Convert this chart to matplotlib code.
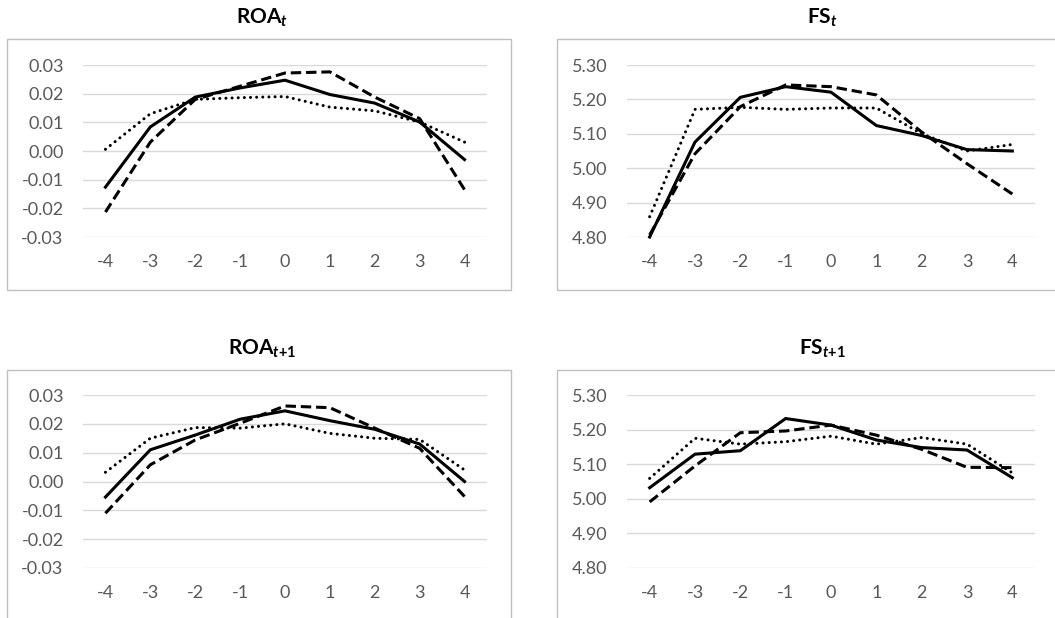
import matplotlib.pyplot as plt
from matplotlib.patches import Rectangle

plt.rcParams['font.family'] = ['Lato', 'DejaVu Sans']
plt.rcParams['mathtext.fontset'] = 'custom'
plt.rcParams['mathtext.rm'] = 'Lato:bold'
plt.rcParams['mathtext.it'] = 'Lato:bold:italic'

periods = [-4, -3, -2, -1, 0, 1, 2, 3, 4]

# ROA_t
roa_t_solid = [-0.0126, 0.0084, 0.0188, 0.0220, 0.0247, 0.0197, 0.0167, 0.0101, -0.0030]
roa_t_dash = [-0.0213, 0.0031, 0.0180, 0.0226, 0.0272, 0.0276, 0.0188, 0.0113, -0.0135]
roa_t_dot = [0.0006, 0.0130, 0.0180, 0.0186, 0.0190, 0.0153, 0.0140, 0.0101, 0.0031]

# FS_t
fs_t_solid = [4.800, 5.076, 5.206, 5.237, 5.221, 5.124, 5.095, 5.054, 5.050]
fs_t_dash = [4.806, 5.042, 5.179, 5.242, 5.237, 5.213, 5.105, 5.013, 4.925]
fs_t_dot = [4.859, 5.171, 5.177, 5.171, 5.175, 5.175, 5.100, 5.050, 5.069]

# ROA_t+1
roa_t1_solid = [-0.0054, 0.0110, 0.0161, 0.0216, 0.0245, 0.0211, 0.0181, 0.0130, 0.0000]
roa_t1_dash = [-0.0110, 0.0058, 0.0144, 0.0202, 0.0262, 0.0256, 0.0185, 0.0115, -0.0052]
roa_t1_dot = [0.0032, 0.0150, 0.0187, 0.0185, 0.0200, 0.0167, 0.0150, 0.0146, 0.0040]

# FS_t+1
fs_t1_solid = [5.032, 5.129, 5.139, 5.232, 5.213, 5.170, 5.148, 5.141, 5.061]
fs_t1_dash = [4.991, 5.095, 5.191, 5.196, 5.213, 5.184, 5.143, 5.091, 5.090]
fs_t1_dot = [5.059, 5.175, 5.158, 5.165, 5.181, 5.158, 5.177, 5.158, 5.075]

roa_ticks = [-0.03, -0.02, -0.01, 0.00, 0.01, 0.02, 0.03]
fs_ticks = [4.80, 4.90, 5.00, 5.10, 5.20, 5.30]

panels = [
    (r'$\mathrm{ROA}_{\mathit{t}}$', roa_t_solid, roa_t_dash, roa_t_dot, roa_ticks),
    (r'$\mathrm{FS}_{\mathit{t}}$', fs_t_solid, fs_t_dash, fs_t_dot, fs_ticks),
    (r'$\mathrm{ROA}_{\mathit{t{+}1}}$', roa_t1_solid, roa_t1_dash, roa_t1_dot, roa_ticks),
    (r'$\mathrm{FS}_{\mathit{t{+}1}}$', fs_t1_solid, fs_t1_dash, fs_t1_dot, fs_ticks),
]

W, H = 1055, 618
fig = plt.figure(figsize=(W / 100, H / 100), dpi=100)

# pixel layout (left, top, right, bottom) for plot areas and frames
areas = [(83, 65, 487, 237), (627, 65, 1035, 237), (83, 395, 487, 568), (627, 395, 1035, 568)]
frames = [(7, 39, 511, 290), (557, 39, 1100, 290), (7, 370, 511, 700), (557, 370, 1100, 700)]
title_pos = [(262, 18), (822, 18), (262, 349), (822, 349)]

for (title, s, d, o, ticks), area, frame, tp in zip(panels, areas, frames, title_pos):
    l, t, r, b = frame
    fig.add_artist(Rectangle((l / W, 1 - b / H), (r - l) / W, (b - t) / H,
                             transform=fig.transFigure, fill=False,
                             edgecolor='#BFBFBF', linewidth=1.0))
    l, t, r, b = area
    ax = fig.add_axes([l / W, 1 - b / H, (r - l) / W, (b - t) / H])
    ax.plot(periods, s, color='black', linewidth=2.2, solid_joinstyle='miter')
    ax.plot(periods, d, color='black', linewidth=2.2, dashes=(3.4, 1.6))
    ax.plot(periods, o, color='black', linewidth=2.2, dashes=(0.01, 2.0),
            dash_capstyle='round')
    ax.set_xlim(-4.5, 4.5)
    ax.set_ylim(ticks[0], ticks[-1])
    ax.set_yticks(ticks)
    ax.set_yticklabels(['{:.2f}'.format(v) for v in ticks])
    ax.set_xticks(periods)
    ax.set_xticklabels([str(p) for p in periods])
    ax.grid(axis='y', color='#D9D9D9', linewidth=1.0)
    ax.set_axisbelow(True)
    for sp in ax.spines.values():
        sp.set_visible(False)
    ax.tick_params(length=0, labelsize=13, labelcolor='#595959')
    ax.tick_params(axis='y', pad=14)
    ax.tick_params(axis='x', pad=12)
    ax.patch.set_alpha(0)
    for line in ax.get_lines():
        line.set_clip_on(False)
    fig.text(tp[0] / W, 1 - tp[1] / H, title, ha='center', va='center',
             fontsize=15, fontweight='bold')

fig.savefig('out.png', dpi=100)
